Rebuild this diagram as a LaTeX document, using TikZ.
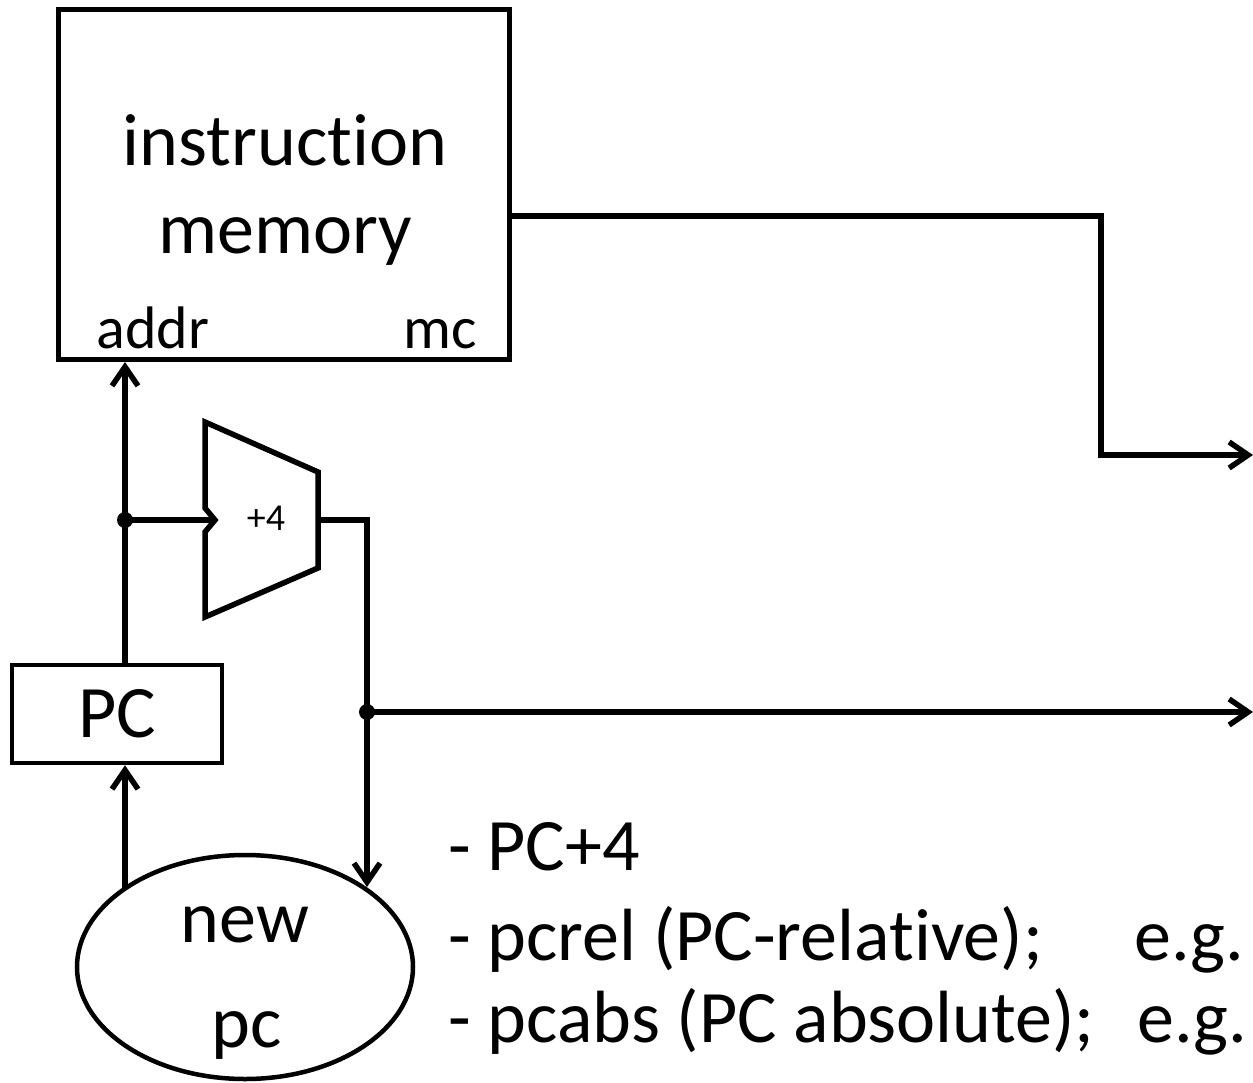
\documentclass[tikz,border=0pt]{standalone}
\usepackage{fontspec}
\setmainfont[Ligatures=NoCommon]{Carlito}
\usetikzlibrary{arrows.meta,shapes.geometric,calc}
\begin{document}
\begin{tikzpicture}[x=1pt,y=-1pt,
  wire/.style={line width=5.5pt},
  arr/.style={wire,-{Straight Barb[length=19pt,width=26pt]}},
  big/.style={font=\fontsize{74}{88}\selectfont,inner sep=0pt,anchor=base},
  mid/.style={font=\fontsize{60}{72}\selectfont,inner sep=0pt,anchor=base},
  small/.style={font=\fontsize{38}{46}\selectfont,inner sep=0pt},
  blockbox/.style={draw,rectangle,inner sep=0pt},
  jdot/.style={circle,fill,inner sep=0pt,minimum size=16pt}
]
\useasboundingbox (0,0) rectangle (1253,1082);

% instruction memory
\node[blockbox,line width=5pt,minimum width=451pt,minimum height=350pt] (mem) at (283.5,184.5) {};
\node[big] (t1) at (285,165) {instruction};
\node[big] (t2) at (285,253) {memory};
\node[mid] (addr) at (153,348) {addr};
\node[mid] (mc) at (440,348) {mc};

% PC register
\node[blockbox,line width=4.5pt,minimum width=210pt,minimum height=98pt,font=\fontsize{74}{88}\selectfont] (pc) at (117,714) {PC};

% new pc ellipse
\node[draw,ellipse,line width=4.5pt,minimum width=336pt,minimum height=224pt,inner sep=0pt] (np) at (245,967) {};
\node[big] (npt1) at (245,942) {new};
\node[big] (npt2) at (247,1047) {pc};

% adder
\draw[line width=5.5pt,line join=miter] (205,422) -- (318,472) -- (318,568) -- (205,617) -- (205,532) -- (215,520) -- (205,508) -- cycle;
\node[small] (add) at (266,518) {+4};

% coordinates
\coordinate (ain) at (215,520);
\coordinate (aout) at (318,520);
\coordinate (j1) at (125,520);
\coordinate (j2) at (367,712);
\coordinate (bend1) at (367,520);
\coordinate (e1) at (125,888);
\coordinate (e2) at (367,887);
\coordinate (c1) at (1101,216);
\coordinate (o1) at (1253,455);
\coordinate (o2) at (1253,712);

% connectors
\draw[arr] (j1 |- pc.north) -- (j1 |- mem.south);
\draw[wire] (j1) -- (ain);
\draw[arr] (e1) -- (j1 |- pc.south);
\draw[arr] (aout) -- (bend1) -- (e2);
\draw[arr] (j2) -- (o2);
\draw[arr] (mem.east |- c1) -- (c1) -- (c1 |- o1) -- (o1);
\node[jdot] (d1) at (j1) {};
\node[jdot] (d2) at (j2) {};

% list text
\node[big,anchor=base west] (l1) at (448,870) {- PC+4};
\node[big,anchor=base west] (l2) at (448,960) {- pcrel (PC-relative);};
\node[big,anchor=base west] (l3) at (448,1042) {- pcabs (PC absolute);};
\node[big,anchor=base west] (eg1) at (1134,960) {e.g.};
\node[big,anchor=base west] (eg2) at (1137,1042) {e.g.};
\end{tikzpicture}
\end{document}
